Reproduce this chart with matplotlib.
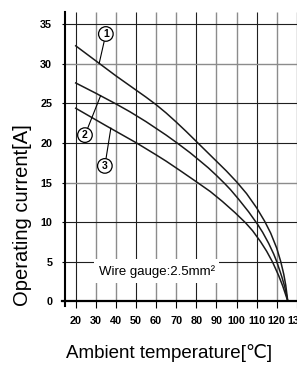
import matplotlib
matplotlib.use("Agg")
import matplotlib.pyplot as plt
from matplotlib.patches import Rectangle

# ============ DATA ============
temp_1 = [20, 30, 40, 50, 55, 60, 65, 70, 75, 80, 85, 90, 95, 100, 105, 110,
          114, 117, 120, 122, 123.5, 124.5, 125.5]
curr_1 = [32.3, 30.4, 28.5, 26.7, 25.8, 24.85, 23.8, 22.65, 21.45, 20.2, 18.95, 17.7,
          16.45, 15.1, 13.6, 11.8, 10.1, 8.6, 6.7, 5.0, 3.4, 2.0, 0.0]

temp_2 = [20, 30, 40, 47, 55, 60, 65, 71, 77, 82, 86, 90, 94, 97, 101, 106,
          110.5, 113, 116, 118.5, 120, 122.5, 124, 125.5]
curr_2 = [27.6, 26.3, 24.95, 23.95, 22.7, 21.85, 21.0, 19.9, 18.75, 17.7, 16.85, 15.9,
          14.9, 14.1, 12.9, 11.3, 9.7, 8.7, 7.3, 5.95, 5.0, 3.1, 1.8, 0.0]

temp_3 = [20, 35, 50.3, 60, 65, 72, 80, 87, 93, 99.2, 104.5, 108, 112, 115, 118,
          121, 123, 125.5]
curr_3 = [24.4, 22.2, 20.0, 18.5, 17.7, 16.5, 15.1, 13.85, 12.6, 11.2, 9.9, 8.9,
          7.5, 6.3, 4.9, 3.2, 1.9, 0.0]

x_ticks = [20, 30, 40, 50, 60, 70, 80, 90, 100, 110, 120, 130]
y_ticks = [0, 5, 10, 15, 20, 25, 30, 35]

curve_names = ["1", "2", "3"]
label_at = [(35.0, 33.8), (24.6, 21.0), (34.5, 17.1)]     # circle centres
label_to = [(31.7, 30.1), (32.4, 26.0), (37.5, 21.9)]     # leader end on curve

note = "Wire gauge:2.5mm\u00b2"

# ============ FIGURE ============
fig = plt.figure(figsize=(2.97, 3.65), dpi=100)
ax = fig.add_axes([62 / 297, 59 / 365, 235 / 297, 294 / 365])
x_lo, x_hi = 13.18, 130.1
y_lo, y_hi = -0.63, 36.58
y_axis_at = 14.68
ax.set_xlim(x_lo, x_hi)
ax.set_ylim(y_lo, y_hi)

# grid lines (alternating dark / grey like the scan)
dark = "#1f1f1f"
grey = "#8c8c8c"
v_dark = {20, 50, 80, 110}
h_dark = {5, 10, 20, 25, 35}
for xv in x_ticks:
    c = dark if xv in v_dark else grey
    ax.vlines(xv, 0, y_hi, color=c, lw=0.8 if c == dark else 1.0, zorder=1, clip_on=False)
for yv in y_ticks[1:]:
    c = dark if yv in h_dark else grey
    ax.hlines(yv, y_axis_at, x_hi, color=c, lw=0.8 if c == dark else 1.0, zorder=1)

# white box behind the note
ax.add_patch(Rectangle((29.1, 2.28), 91.3 - 29.1, 5.3 - 2.28,
                       facecolor="white", edgecolor="none", zorder=2))
ax.text(31.7, 3.7, note, fontsize=9.5, family=["Liberation Sans", "DejaVu Sans"],
        ha="left", va="center", zorder=3)

# curves
for tt, cc in [(temp_1, curr_1), (temp_2, curr_2), (temp_3, curr_3)]:
    ax.plot(tt, cc, color="#1a1a1a", lw=1.1, zorder=4, solid_joinstyle="round")

# circled numbers with leader lines
for name, (tx, ty), (px, py) in zip(curve_names, label_at, label_to):
    ax.annotate(name, xy=(px, py), xytext=(tx, ty), ha="center", va="center",
                fontsize=7.5, fontweight="bold",
                family=["Liberation Sans", "DejaVu Sans"],
                bbox=dict(boxstyle="circle,pad=0.22", fc="white", ec="black", lw=0.9),
                arrowprops=dict(arrowstyle="-", lw=0.8, color="black",
                                shrinkA=0, shrinkB=0),
                zorder=5)

# spines
for s in ["top", "right"]:
    ax.spines[s].set_visible(False)
ax.spines["left"].set_position(("data", y_axis_at))
ax.spines["bottom"].set_position(("data", 0))
ax.spines["left"].set_linewidth(1.5)
ax.spines["bottom"].set_linewidth(1.6)
ax.spines["left"].set_zorder(6)
ax.spines["bottom"].set_zorder(6)

# ticks
ax.set_xticks(x_ticks)
ax.set_yticks(y_ticks)
ax.set_xticklabels([str(v) for v in x_ticks])
ax.set_yticklabels([str(v) for v in y_ticks])
ax.tick_params(axis="x", direction="out", length=5.3, width=0.8, pad=5.3)
ax.tick_params(axis="y", direction="out", length=2.4, width=0.8, pad=6.8)
for lab in ax.get_xticklabels() + ax.get_yticklabels():
    lab.set_family(["Liberation Sans Narrow", "Liberation Sans", "DejaVu Sans"])
    lab.set_fontweight("bold")
    lab.set_fontsize(7.8)

# axis titles
fig.text(22.5 / 297, 1 - 215 / 365, "Operating current[A]", rotation=90,
         ha="center", va="center", fontsize=14.5,
         family=["Liberation Sans", "DejaVu Sans"])
fig.text(169 / 297, 1 - 353 / 365, "Ambient temperature[\u2103]",
         ha="center", va="center", fontsize=13.5,
         family=["Liberation Sans", "DejaVu Sans"])

fig.savefig("out.png", dpi=100)
